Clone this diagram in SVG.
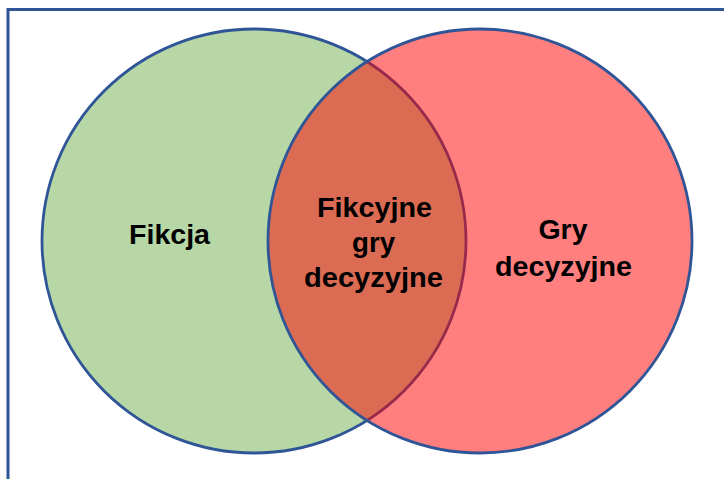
<svg xmlns="http://www.w3.org/2000/svg" width="724" height="479" viewBox="0 0 724 479">
<style>
.c{stroke:#2F5597;stroke-width:2.8}
.t{font-family:"Liberation Sans",Arial,sans-serif;font-weight:bold;font-size:27.5px;fill:#000;text-anchor:middle}
</style>
<rect x="0" y="0" width="724" height="479" fill="#fff"/>
<rect x="8" y="9.5" width="730" height="480" fill="none" stroke="#2F5597" stroke-width="3"/>
<g id="fikcja">
<circle class="c" cx="254" cy="241" r="212" fill="#B7D7A6"/>
<text class="t" x="169.5" y="244" textLength="81" lengthAdjust="spacingAndGlyphs">Fikcja</text>
</g>
<g id="gry-decyzyjne">
<circle class="c" cx="480" cy="241" r="212" fill="#FF0000" fill-opacity="0.5"/>
<text class="t" x="563" y="239" textLength="49" lengthAdjust="spacingAndGlyphs">Gry</text>
<text class="t" x="563.5" y="276" textLength="137" lengthAdjust="spacingAndGlyphs">decyzyjne</text>
</g>
<g id="fikcyjne-gry-decyzyjne">
<text class="t" x="374.5" y="217" textLength="115" lengthAdjust="spacingAndGlyphs">Fikcyjne</text>
<text class="t" x="373.5" y="252" textLength="43" lengthAdjust="spacingAndGlyphs">gry</text>
<text class="t" x="373.5" y="287" textLength="139" lengthAdjust="spacingAndGlyphs">decyzyjne</text>
</g>
<g id="connectors"></g>
</svg>
